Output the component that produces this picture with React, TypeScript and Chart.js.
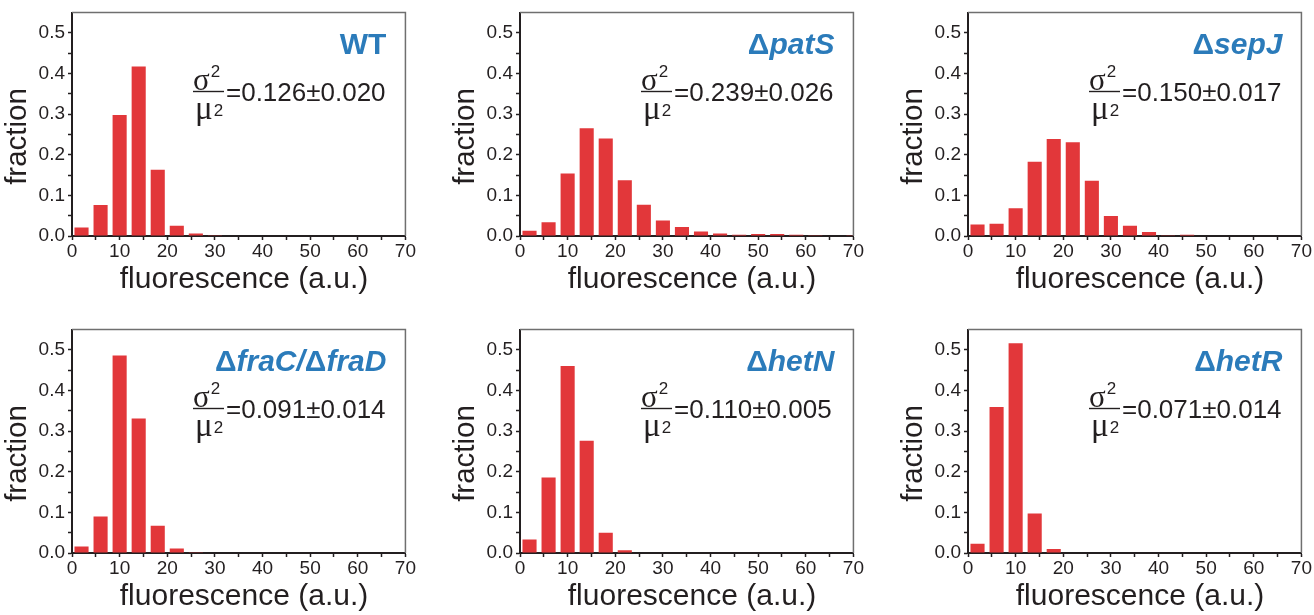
import React, { useEffect, useRef } from 'react';
import { Chart, registerables } from 'chart.js';

Chart.register(...registerables);

// ---- data ----
const binCenters = [2, 6, 10, 14, 18, 22, 26, 30, 34, 38, 42, 46, 50, 54, 58, 62, 66, 70];

const wtFraction = [0.021, 0.076, 0.298, 0.417, 0.163, 0.025, 0.006, 0.002, 0, 0, 0, 0, 0, 0, 0, 0, 0, 0];
const patSFraction = [0.013, 0.034, 0.154, 0.265, 0.240, 0.137, 0.077, 0.038, 0.022, 0.011, 0.006, 0.003, 0.005, 0.005, 0.003, 0.002, 0, 0.002];
const sepJFraction = [0.028, 0.030, 0.068, 0.183, 0.239, 0.231, 0.136, 0.049, 0.025, 0.010, 0.002, 0.003, 0, 0, 0, 0, 0, 0];
const fraCDFraction = [0.016, 0.090, 0.486, 0.331, 0.067, 0.011, 0.002, 0, 0, 0, 0, 0, 0, 0, 0, 0, 0, 0];
const hetNFraction = [0.033, 0.186, 0.460, 0.276, 0.050, 0.007, 0, 0, 0, 0, 0, 0, 0, 0, 0, 0, 0, 0];
const hetRFraction = [0.023, 0.359, 0.516, 0.097, 0.010, 0, 0, 0, 0, 0, 0, 0, 0, 0, 0, 0, 0, 0];

const strainNames = ['WT', 'ΔpatS', 'ΔsepJ', 'ΔfraC/ΔfraD', 'ΔhetN', 'ΔhetR'];
const strainItalic = [false, true, true, true, true, true];
const noiseStats = ['=0.126±0.020', '=0.239±0.026', '=0.150±0.017', '=0.091±0.014', '=0.110±0.005', '=0.071±0.014'];
const panelSeries = [wtFraction, patSFraction, sepJFraction, fraCDFraction, hetNFraction, hetRFraction];

const xTitle = 'fluorescence (a.u.)';
const yTitle = 'fraction';

// ---- style ----
const SANS = '"Liberation Sans", Arial, Helvetica, sans-serif';
const SERIF = '"Liberation Serif", "Times New Roman", serif';
const INK = '#231f20';
const FRAME = '#6f6f6f';
const BAR = '#e2373a';
const BLUE = '#2b7bba';

const CANVAS_W = 418;
const CANVAS_H = 300;
const colLeft = [0, 448, 896];
const rowTop = [0, 317];

function makeAnnotPlugin(idx: number) {
  return {
    id: 'annot' + idx,
    afterDraw(chart: any) {
      const { ctx, chartArea: ca } = chart;
      ctx.save();
      // top and right frame
      ctx.strokeStyle = FRAME;
      ctx.lineWidth = 1.5;
      ctx.beginPath();
      ctx.moveTo(ca.left, ca.top);
      ctx.lineTo(ca.right, ca.top);
      ctx.lineTo(ca.right, ca.bottom);
      ctx.stroke();

      // strain name, right aligned
      const name = strainNames[idx];
      const parts = name.split(/(Δ)/).filter((p) => p.length > 0);
      const fontFor = (p: string) =>
        p === 'Δ' || !strainItalic[idx] ? `bold 30px ${SANS}` : `italic bold 30px ${SANS}`;
      let total = 0;
      for (const p of parts) {
        ctx.font = fontFor(p);
        total += ctx.measureText(p).width;
      }
      let x = ca.right - 19 - total;
      const by = ca.top + 41;
      ctx.fillStyle = BLUE;
      ctx.textAlign = 'left';
      ctx.textBaseline = 'alphabetic';
      for (const p of parts) {
        ctx.font = fontFor(p);
        ctx.fillText(p, x, by);
        x += ctx.measureText(p).width;
      }

      // sigma^2 / mu^2 fraction
      const lx = ca.left + 121;
      const ly = ca.top + 79;
      ctx.fillStyle = INK;
      ctx.strokeStyle = INK;
      ctx.lineWidth = 1.4;
      ctx.beginPath();
      ctx.moveTo(lx, ly);
      ctx.lineTo(lx + 31, ly);
      ctx.stroke();
      ctx.font = `31px ${SERIF}`;
      ctx.fillText('σ', lx, ly - 2);
      const sw = ctx.measureText('σ').width;
      ctx.font = `33px ${SERIF}`;
      ctx.fillText('μ', lx + 2, ly + 27);
      const mw = ctx.measureText('μ').width;
      ctx.font = `17px ${SANS}`;
      ctx.fillText('2', lx + sw + 1, ly - 15);
      ctx.fillText('2', lx + 2 + mw + 1, ly + 24);

      ctx.font = `26px ${SANS}`;
      ctx.fillText(noiseStats[idx], ca.left + 154, ly + 9.5);

      // axis titles
      ctx.font = `30px ${SANS}`;
      ctx.textAlign = 'center';
      ctx.fillText(xTitle, ca.left + 172, ca.bottom + 52);
      ctx.font = `29.5px ${SANS}`;
      ctx.translate(ca.left - 46, ca.top + 124);
      ctx.rotate(-Math.PI / 2);
      ctx.fillText(yTitle, 0, 0);
      ctx.restore();
    },
  };
}

function Panel({ idx }: { idx: number }) {
  const ref = useRef<HTMLCanvasElement>(null);
  useEffect(() => {
    if (!ref.current) return;
    const values = panelSeries[idx];
    const chart = new Chart(ref.current, {
      type: 'bar',
      data: {
        datasets: [
          {
            data: binCenters.map((x, i) => ({ x, y: values[i] })),
            backgroundColor: BAR,
            borderWidth: 0,
            barPercentage: 0.74,
            categoryPercentage: 1,
            clip: 0,
          } as any,
        ],
      },
      options: {
        responsive: false,
        animation: false,
        events: [],
        layout: { padding: { left: 0, top: 10, right: 11, bottom: 0 } },
        plugins: {
          legend: { display: false },
          tooltip: { enabled: false },
          title: { display: false },
        },
        scales: {
          x: {
            type: 'linear',
            min: 0,
            max: 70,
            offset: false,
            afterFit: (s: any) => {
              s.height = 64;
            },
            ticks: {
              stepSize: 5,
              autoSkip: false,
              maxRotation: 0,
              padding: 2,
              color: INK,
              font: { family: SANS, size: 19, lineHeight: 1 },
              callback: (v: any) => {
                const r = Math.round(Number(v));
                return r % 10 === 0 ? String(r) : '';
              },
            },
            grid: {
              display: true,
              drawOnChartArea: false,
              drawTicks: true,
              tickLength: 4,
              tickColor: INK,
              tickWidth: 1.5,
              offset: false,
            },
            border: { display: true, color: INK, width: 2 },
          },
          y: {
            type: 'linear',
            min: 0,
            max: 0.55,
            afterFit: (s: any) => {
              s.width = 72;
            },
            ticks: {
              stepSize: 0.05,
              padding: 3,
              color: INK,
              font: { family: SANS, size: 19, lineHeight: 1 },
              callback: (v: any) => {
                const r = Math.round(Number(v) * 100);
                if (r > 50) return null;
                return r % 10 === 0 ? (r / 100).toFixed(1) : '';
              },
            },
            grid: {
              display: true,
              drawOnChartArea: false,
              drawTicks: true,
              tickLength: 4,
              tickColor: INK,
              tickWidth: 1.5,
            },
            border: { display: true, color: INK, width: 2 },
          },
        },
      } as any,
      plugins: [makeAnnotPlugin(idx)],
    });
    return () => chart.destroy();
  }, [idx]);

  const col = idx % 3;
  const row = Math.floor(idx / 3);
  return (
    <canvas
      ref={ref}
      width={CANVAS_W}
      height={CANVAS_H}
      style={{
        position: 'absolute',
        left: colLeft[col],
        top: rowTop[row],
        width: CANVAS_W,
        height: CANVAS_H,
      }}
    />
  );
}

export default function App() {
  return (
    <div
      style={{
        position: 'absolute',
        left: 0,
        top: 0,
        width: 1314,
        height: 615,
        overflow: 'hidden',
        background: '#ffffff',
      }}
    >
      {panelSeries.map((_, i) => (
        <Panel key={i} idx={i} />
      ))}
    </div>
  );
}
